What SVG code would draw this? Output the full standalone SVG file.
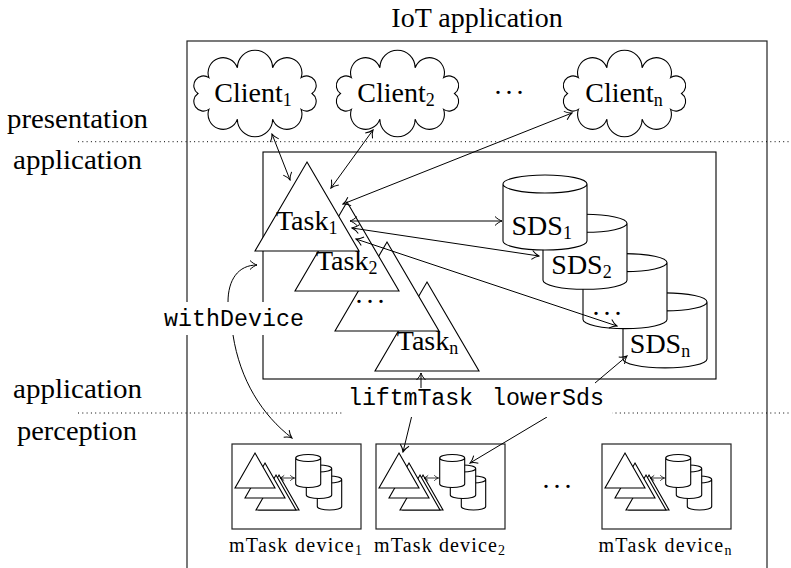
<svg xmlns="http://www.w3.org/2000/svg" width="791" height="568" viewBox="0 0 791 568">
<style>
.sh{fill:#fff;stroke:#000;stroke-width:1.1}
.box{fill:none;stroke:#222;stroke-width:1.2}
.dot{fill:none;stroke:#000;stroke-width:1;stroke-dasharray:1 3.3}
.ar{fill:none;stroke:#000;stroke-width:1;marker-end:url(#ah)}
.ar2{fill:none;stroke:#000;stroke-width:1;marker-start:url(#ah);marker-end:url(#ah)}
.ar3{fill:none;stroke:#000;stroke-width:0.8;marker-start:url(#ahs);marker-end:url(#ahs)}
.tt{font-family:"Liberation Mono","Courier New",monospace;font-size:23.3px;fill:#000}
.dv{font-family:"Liberation Serif","Times New Roman",serif;font-size:20px;fill:#000}
.rm{font-family:"Liberation Serif","Times New Roman",serif;font-size:28px;fill:#000}
.sb{font-size:18px}
</style>
<defs>
<marker id="ah" viewBox="-9 -6 10 12" refX="0" refY="0" markerWidth="10" markerHeight="12" markerUnits="userSpaceOnUse" orient="auto-start-reverse">
<path d="M-7,-4.5 C-4.5,-2 -2,-0.6 0,0 C-2,0.6 -4.5,2 -7,4.5" fill="none" stroke="#000" stroke-width="1"/>
</marker>
<marker id="ahs" viewBox="-9 -6 10 12" refX="0" refY="0" markerWidth="6" markerHeight="7.2" markerUnits="userSpaceOnUse" orient="auto-start-reverse">
<path d="M-7,-4.5 C-4.5,-2 -2,-0.6 0,0 C-2,0.6 -4.5,2 -7,4.5" fill="none" stroke="#000" stroke-width="1.4"/>
</marker>
<path id="cloud" d="M-17.61,-25.68 A1 1 0 0 1 17.61,-25.68 A1 1 0 0 1 46.11,-15.87 A1 1 0 0 1 57,0 A1 1 0 0 1 46.11,15.87 A1 1 0 0 1 17.61,25.68 A1 1 0 0 1 -17.61,25.68 A1 1 0 0 1 -46.11,15.87 A1 1 0 0 1 -57,0 A1 1 0 0 1 -46.11,-15.87 A1 1 0 0 1 -17.61,-25.68 Z"/>
<path id="cyl" d="M0,9 A42,9 0 0,1 84,9 L84,66 A42,9 0 0,1 0,66 Z M0,9 A42,9 0 0,0 84,9"/>
<path id="tri" d="M0,0 L52,89 L-52,89 Z"/>
<g id="mini">
<path class="sh" stroke-width="1" d="M47,31 L67,66 L27,66 Z"/>
<path class="sh" stroke-width="1" d="M44,31 L64,66 L24,66 Z"/>
<path class="sh" stroke-width="1" d="M33,19 L53,54 L13,54 Z"/>
<path class="sh" stroke-width="1" d="M23,9 L43,44 L3,44 Z"/>
<path class="ar3" d="M48,34 L62.5,34"/>
<path class="sh" stroke-width="0.9" d="M85.3,35.5 A12.2,3.5 0 0,1 109.7,35.5 L109.7,62.5 A12.2,3.5 0 0,1 85.3,62.5 Z M85.3,35.5 A12.2,3.5 0 0,0 109.7,35.5"/>
<path class="sh" stroke-width="0.9" d="M74.3,24.5 A12.7,3.5 0 0,1 99.7,24.5 L99.7,51 A12.7,3.5 0 0,1 74.3,51 Z M74.3,24.5 A12.7,3.5 0 0,0 99.7,24.5"/>
<path class="sh" stroke-width="0.9" d="M63.7,14 A12.5,3.5 0 0,1 88.7,14 L88.7,40 A12.5,3.5 0 0,1 63.7,40 Z M63.7,14 A12.5,3.5 0 0,0 88.7,14"/>
</g>
</defs>
<rect width="791" height="568" fill="#fff"/>

<g id="title"><text class="rm" x="477" y="27" text-anchor="middle">IoT application</text></g>
<rect class="box" x="187" y="41" width="580" height="540"/>

<g id="layers">
<line class="dot" x1="78" y1="141.7" x2="791" y2="141.7"/>
<line class="dot" x1="78" y1="413" x2="791" y2="413"/>
<text class="rm" x="77.5" y="128" text-anchor="middle" textLength="141" lengthAdjust="spacingAndGlyphs">presentation</text>
<text class="rm" x="77.5" y="169" text-anchor="middle" textLength="129" lengthAdjust="spacingAndGlyphs">application</text>
<text class="rm" x="77.5" y="398" text-anchor="middle" textLength="129" lengthAdjust="spacingAndGlyphs">application</text>
<text class="rm" x="77" y="440" text-anchor="middle" textLength="120" lengthAdjust="spacingAndGlyphs">perception</text>
</g>

<g id="client1"><use href="#cloud" x="255" y="93.5" class="sh"/><text class="rm" x="253" y="101.5" text-anchor="middle">Client<tspan class="sb" dy="4">1</tspan></text></g>
<g id="client2"><use href="#cloud" x="397.5" y="93.5" class="sh"/><text class="rm" x="396" y="101.5" text-anchor="middle">Client<tspan class="sb" dy="4">2</tspan></text></g>
<g id="clientdots"><text class="rm" x="511" y="93.5" text-anchor="middle" letter-spacing="4">...</text></g>
<g id="clientn"><use href="#cloud" x="624.5" y="93.5" class="sh"/><text class="rm" x="624" y="101.5" text-anchor="middle">Client<tspan class="sb" dy="4">n</tspan></text></g>

<rect x="263" y="152" width="453" height="227" fill="none" stroke="#000" stroke-width="1.1"/>

<g id="taskn"><use href="#tri" x="427" y="282" class="sh"/><text class="rm" x="427.5" y="350" text-anchor="middle">Task<tspan class="sb" dy="4">n</tspan></text></g>
<g id="taskdots"><use href="#tri" x="387" y="242" class="sh"/><text class="rm" x="372" y="303" text-anchor="middle" letter-spacing="4">...</text></g>
<g id="task2"><use href="#tri" x="347" y="202" class="sh"/><text class="rm" x="346.7" y="270" text-anchor="middle">Task<tspan class="sb" dy="4">2</tspan></text></g>
<g id="task1"><use href="#tri" x="307" y="162" class="sh"/><text class="rm" x="306.7" y="230" text-anchor="middle">Task<tspan class="sb" dy="4">1</tspan></text></g>

<g id="sdsn"><use href="#cyl" x="623" y="292.9" class="sh"/><text class="rm" x="660" y="353" text-anchor="middle">SDS<tspan class="sb" dy="4">n</tspan></text></g>
<g id="sdsdots"><use href="#cyl" x="583" y="253.6" class="sh"/><text class="rm" x="609" y="315" text-anchor="middle" letter-spacing="4">...</text></g>
<g id="sds2"><use href="#cyl" x="543" y="214.3" class="sh"/><text class="rm" x="581.5" y="274" text-anchor="middle">SDS<tspan class="sb" dy="4">2</tspan></text></g>
<g id="sds1"><use href="#cyl" x="503" y="175" class="sh"/><text class="rm" x="541.7" y="235" text-anchor="middle">SDS<tspan class="sb" dy="4">1</tspan></text></g>

<g id="device1"><rect class="box" x="232" y="444" width="129" height="85"/><use href="#mini" x="232" y="444"/><text class="dv" x="295.5" y="552" text-anchor="middle" textLength="133" lengthAdjust="spacing">mTask device<tspan font-size="14" dy="3">1</tspan></text></g>
<g id="device2"><rect class="box" x="376" y="444" width="129" height="85"/><use href="#mini" x="376" y="444"/><text class="dv" x="439.5" y="552" text-anchor="middle" textLength="131" lengthAdjust="spacing">mTask device<tspan font-size="14" dy="3">2</tspan></text></g>
<g id="devicedots"><text class="rm" x="559" y="487.5" text-anchor="middle" letter-spacing="4">...</text></g>
<g id="devicen"><rect class="box" x="602" y="444" width="129" height="85"/><use href="#mini" x="602" y="444"/><text class="dv" x="665" y="552" text-anchor="middle" textLength="133" lengthAdjust="spacing">mTask device<tspan font-size="14" dy="3">n</tspan></text></g>

<g id="connectors">
<path class="ar2" d="M272,134 L290,180"/>
<path class="ar2" d="M373,130 L331,188"/>
<path class="ar2" d="M572,113 L343,204"/>
<path class="ar2" d="M350,221 L502,221"/>
<path class="ar2" d="M352,228 L539,256"/>
<path class="ar2" d="M356,239 L617,326"/>
<path class="ar" d="M228,302 C228,280 238,265 257,265"/>
<path class="ar" d="M233,335 C240,380 262,415 292,438"/>
<path class="ar" d="M421,388 L421,373"/>
<path class="ar" d="M595,383 L627,356"/>
<path class="ar" d="M412,415 L403,452"/>
<path class="ar" d="M547,417 L470,463"/>
</g>

<g id="labels">
<rect x="160" y="302" width="146" height="33" fill="#fff"/>
<text class="tt" x="164" y="326" textLength="140">withDevice</text>
<rect x="342" y="389" width="270" height="28" fill="#fff"/>
<text class="tt" x="348" y="405" textLength="125">liftmTask</text>
<text class="tt" x="492" y="405" textLength="112">lowerSds</text>
</g>
</svg>
